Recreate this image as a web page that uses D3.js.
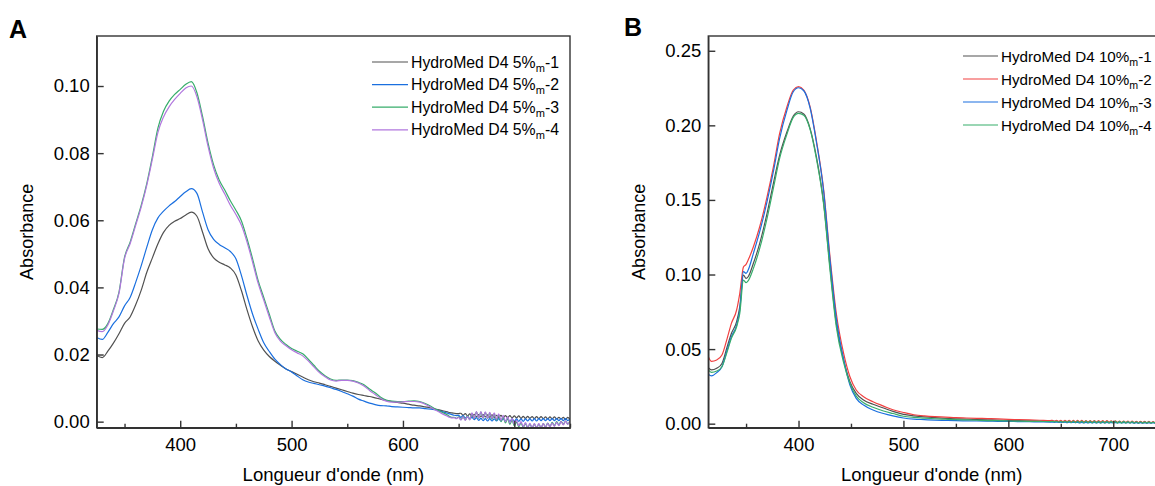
<!DOCTYPE html>
<html><head><meta charset="utf-8">
<script src="https://cdn.jsdelivr.net/npm/d3@7"></script>
<style>
body{margin:0;background:#fff}
svg{display:block}
text{font-family:"Liberation Sans",Arial,sans-serif;fill:#000}
</style>
</head><body>
<svg id="c" width="1155" height="486"></svg>
<script>
// ---------- Panel A data ----------
const wlA = d3.range(325, 641, 5);          // main grid (nm)
const wlATail = d3.range(642, 751, 2);      // noisy tail grid (nm)
const namesA = ["HydroMed D4 5%|m|-1","HydroMed D4 5%|m|-2","HydroMed D4 5%|m|-3","HydroMed D4 5%|m|-4"];
const colorsA = ["#515151","#1A6FDF","#37AD6B","#B177DE"];
const A1 = [0.0197,0.0191,0.0210,0.0234,0.0262,0.0293,0.0312,0.0348,0.0392,0.0445,0.0488,0.0530,0.0564,0.0585,0.0597,0.0605,0.0616,0.0624,0.0612,0.0565,0.0515,0.0488,0.0475,0.0467,0.0458,0.0437,0.0390,0.0333,0.0282,0.0240,0.0213,0.0194,0.0180,0.0168,0.0157,0.0149,0.0141,0.0133,0.0125,0.0119,0.0115,0.0110,0.0105,0.0100,0.0095,0.0090,0.0085,0.0081,0.0078,0.0075,0.0071,0.0067,0.0063,0.0060,0.0057,0.0055,0.0052,0.0049,0.0047,0.0044,0.0041,0.0037,0.0033,0.0029];
const A2 = [0.0251,0.0245,0.0266,0.0292,0.0312,0.0345,0.0370,0.0415,0.0465,0.0520,0.0572,0.0607,0.0627,0.0643,0.0656,0.0671,0.0685,0.0694,0.0680,0.0625,0.0572,0.0543,0.0528,0.0518,0.0507,0.0485,0.0435,0.0375,0.0320,0.0275,0.0235,0.0209,0.0186,0.0170,0.0157,0.0148,0.0136,0.0125,0.0118,0.0114,0.0110,0.0106,0.0101,0.0096,0.0090,0.0083,0.0076,0.0067,0.0061,0.0055,0.0051,0.0048,0.0047,0.0045,0.0044,0.0043,0.0042,0.0041,0.0041,0.0039,0.0037,0.0035,0.0030,0.0025];
const A3 = [0.0276,0.0275,0.0292,0.0334,0.0386,0.0490,0.0535,0.0590,0.0645,0.0710,0.0790,0.0875,0.0925,0.0955,0.0975,0.0990,0.1005,0.1013,0.0980,0.0910,0.0830,0.0765,0.0720,0.0690,0.0658,0.0630,0.0598,0.0545,0.0485,0.0420,0.0370,0.0320,0.0270,0.0245,0.0230,0.0218,0.0210,0.0202,0.0186,0.0168,0.0150,0.0137,0.0127,0.0123,0.0124,0.0124,0.0122,0.0117,0.0110,0.0097,0.0086,0.0073,0.0064,0.0061,0.0060,0.0060,0.0061,0.0062,0.0060,0.0054,0.0046,0.0036,0.0028,0.0020];
const A4 = [0.0272,0.0268,0.0288,0.0330,0.0382,0.0486,0.0530,0.0585,0.0640,0.0705,0.0782,0.0862,0.0908,0.0938,0.0960,0.0978,0.0994,0.1000,0.0968,0.0900,0.0820,0.0755,0.0710,0.0678,0.0645,0.0617,0.0585,0.0535,0.0475,0.0412,0.0362,0.0312,0.0265,0.0240,0.0226,0.0214,0.0205,0.0196,0.0181,0.0163,0.0146,0.0134,0.0124,0.0121,0.0123,0.0123,0.0121,0.0115,0.0106,0.0093,0.0081,0.0069,0.0061,0.0058,0.0058,0.0059,0.0060,0.0060,0.0058,0.0052,0.0043,0.0033,0.0024,0.0016];
const A1t = [0.0027,0.0026,0.0025,0.0024,0.0024,0.0025,0.0019,0.0024,0.0017,0.0023,0.0016,0.0022,0.0015,0.0021,0.0014,0.0021,0.0014,0.0020,0.0013,0.0020,0.0013,0.0019,0.0013,0.0019,0.0012,0.0018,0.0012,0.0018,0.0011,0.0017,0.0011,0.0017,0.0010,0.0016,0.0010,0.0016,0.0010,0.0015,0.0009,0.0015,0.0009,0.0015,0.0009,0.0014,0.0008,0.0014,0.0008,0.0014,0.0008,0.0013,0.0008,0.0013,0.0007,0.0013,0.0007];
const A2t = [0.0023,0.0021,0.0019,0.0018,0.0019,0.0013,0.0018,0.0011,0.0015,0.0009,0.0013,0.0006,0.0012,0.0004,0.0010,0.0003,0.0009,0.0002,0.0009,0.0002,0.0008,0.0002,0.0009,0.0002,0.0009,0.0002,0.0008,0.0001,0.0008,0.0001,0.0008,0.0001,0.0008,0.0001,0.0008,0.0002,0.0008,0.0002,0.0009,0.0002,0.0009,0.0003,0.0009,0.0003,0.0009,0.0003,0.0009,0.0003,0.0009,0.0003,0.0009,0.0003,0.0009,0.0003,0.0008];
const A3t = [0.0015,0.0013,0.0013,0.0010,0.0014,0.0006,0.0015,0.0005,0.0017,0.0006,0.0025,0.0009,0.0029,0.0010,0.0029,0.0010,0.0028,0.0009,0.0026,0.0007,0.0023,0.0004,0.0019,0.0000,0.0014,-0.0004,0.0009,-0.0008,0.0004,-0.0012,-0.0001,-0.0015,-0.0004,-0.0017,-0.0006,-0.0018,-0.0007,-0.0019,-0.0007,-0.0019,-0.0007,-0.0018,-0.0006,-0.0016,-0.0004,-0.0014,-0.0002,-0.0012,0.0000,-0.0010,0.0001,-0.0008,0.0002,-0.0007,0.0003];
const A4t = [0.0013,0.0011,0.0012,0.0009,0.0013,0.0005,0.0014,0.0004,0.0016,0.0005,0.0026,0.0010,0.0030,0.0011,0.0030,0.0011,0.0029,0.0010,0.0028,0.0009,0.0026,0.0007,0.0023,0.0004,0.0019,0.0000,0.0014,-0.0004,0.0009,-0.0008,0.0004,-0.0012,0.0000,-0.0015,-0.0003,-0.0017,-0.0005,-0.0018,-0.0006,-0.0018,-0.0006,-0.0018,-0.0006,-0.0017,-0.0005,-0.0016,-0.0004,-0.0014,-0.0002,-0.0012,0.0000,-0.0010,0.0002,-0.0008,0.0003];
const xTicksA = [400,500,600,700];
const xMinorA = [350,450,550,650,750];
const yTicksA = [0.00,0.02,0.04,0.06,0.08,0.10];

// ---------- Panel B data ----------
const wlB = [314,317,322,327,332,336,341,344,347.5,350,352,357,363,370,376,382,389,395,400,405,411,417,424,430,436,443,449,455,462,471,481,490,500];
const wlBMid = [510,520,530,540,550,560,570,580,590,600,610,620,630,640];
const wlBTail = d3.range(642, 751, 2);
const namesB = ["HydroMed D4 10%|m|-1","HydroMed D4 10%|m|-2","HydroMed D4 10%|m|-3","HydroMed D4 10%|m|-4"];
const colorsB = ["#515151","#F14040","#1A6FDF","#37AD6B"];
const B1 = [0.0375,0.0360,0.0371,0.0404,0.0516,0.0605,0.0684,0.0784,0.0996,0.0974,0.0985,0.1075,0.1209,0.1410,0.1610,0.1800,0.1957,0.2062,0.2091,0.2076,0.1980,0.1790,0.1477,0.1052,0.0672,0.0427,0.0282,0.0203,0.0159,0.0130,0.0105,0.0082,0.0062];
const B2 = [0.0449,0.0418,0.0427,0.0460,0.0572,0.0672,0.0762,0.0874,0.1050,0.1068,0.1097,0.1186,0.1320,0.1520,0.1720,0.1946,0.2125,0.2236,0.2259,0.2236,0.2125,0.1900,0.1566,0.1120,0.0740,0.0471,0.0315,0.0226,0.0181,0.0147,0.0118,0.0093,0.0075];
const B3 = [0.0331,0.0320,0.0342,0.0382,0.0494,0.0583,0.0661,0.0762,0.1019,0.1008,0.1030,0.1142,0.1287,0.1488,0.1689,0.1912,0.2102,0.2225,0.2252,0.2232,0.2118,0.1890,0.1555,0.1097,0.0706,0.0431,0.0259,0.0170,0.0125,0.0092,0.0068,0.0052,0.0038];
const B4 = [0.0360,0.0344,0.0353,0.0382,0.0483,0.0572,0.0650,0.0740,0.0963,0.0945,0.0958,0.1041,0.1175,0.1376,0.1577,0.1778,0.1941,0.2053,0.2080,0.2067,0.1973,0.1778,0.1466,0.1030,0.0650,0.0409,0.0270,0.0185,0.0141,0.0110,0.0085,0.0068,0.0050];
const B1m = [0.0052,0.0045,0.0040,0.0036,0.0033,0.0030,0.0028,0.0026,0.0024,0.0022,0.0020,0.0019,0.0018,0.0017];
const B2m = [0.0060,0.0052,0.0047,0.0044,0.0040,0.0038,0.0036,0.0034,0.0032,0.0029,0.0027,0.0025,0.0023,0.0021];
const B3m = [0.0030,0.0027,0.0024,0.0022,0.0020,0.0019,0.0018,0.0017,0.0016,0.0015,0.0014,0.0013,0.0012,0.0011];
const B4m = [0.0042,0.0037,0.0033,0.0030,0.0027,0.0025,0.0023,0.0021,0.0020,0.0018,0.0017,0.0016,0.0015,0.0014];
const B1t = [0.0017,0.0015,0.0017,0.0014,0.0016,0.0013,0.0016,0.0013,0.0016,0.0012,0.0015,0.0012,0.0015,0.0011,0.0015,0.0011,0.0014,0.0011,0.0014,0.0010,0.0014,0.0010,0.0013,0.0010,0.0013,0.0009,0.0013,0.0009,0.0012,0.0009,0.0012,0.0009,0.0012,0.0008,0.0011,0.0008,0.0011,0.0008,0.0011,0.0008,0.0010,0.0007,0.0010,0.0007,0.0010,0.0007,0.0010,0.0007,0.0009,0.0007,0.0009,0.0006,0.0009,0.0006,0.0009];
const B2t = [0.0022,0.0016,0.0023,0.0015,0.0023,0.0014,0.0023,0.0013,0.0023,0.0013,0.0022,0.0012,0.0022,0.0012,0.0022,0.0011,0.0021,0.0011,0.0021,0.0010,0.0021,0.0010,0.0020,0.0010,0.0020,0.0009,0.0020,0.0009,0.0019,0.0009,0.0019,0.0008,0.0018,0.0008,0.0018,0.0008,0.0017,0.0007,0.0017,0.0007,0.0016,0.0007,0.0016,0.0007,0.0015,0.0006,0.0015,0.0006,0.0014,0.0006,0.0014,0.0006,0.0013,0.0006,0.0012];
const B3t = [0.0011,0.0009,0.0011,0.0008,0.0010,0.0008,0.0010,0.0007,0.0010,0.0007,0.0009,0.0007,0.0009,0.0006,0.0009,0.0006,0.0009,0.0006,0.0008,0.0006,0.0008,0.0005,0.0008,0.0005,0.0008,0.0005,0.0008,0.0005,0.0007,0.0005,0.0007,0.0005,0.0007,0.0005,0.0007,0.0005,0.0007,0.0005,0.0007,0.0004,0.0007,0.0004,0.0007,0.0004,0.0006,0.0004,0.0006,0.0004,0.0006,0.0004,0.0006,0.0004,0.0006,0.0004,0.0006];
const B4t = [0.0015,0.0012,0.0016,0.0011,0.0016,0.0010,0.0016,0.0009,0.0017,0.0008,0.0017,0.0007,0.0017,0.0007,0.0017,0.0006,0.0017,0.0006,0.0017,0.0005,0.0017,0.0005,0.0016,0.0004,0.0016,0.0004,0.0016,0.0004,0.0016,0.0004,0.0015,0.0004,0.0015,0.0004,0.0015,0.0004,0.0014,0.0004,0.0014,0.0004,0.0013,0.0004,0.0013,0.0004,0.0012,0.0004,0.0012,0.0004,0.0011,0.0004,0.0011,0.0004,0.0010,0.0004,0.0010];
const xTicksB = [400,500,600,700];
const xMinorB = [350,450,550,650];
const yTicksB = [0.00,0.05,0.10,0.15,0.20,0.25];

const xTitle = "Longueur d'onde (nm)";
const yTitle = "Absorbance";

function zip(xs, ys){ const n = Math.min(xs.length, ys.length); return d3.range(n).map(i => [xs[i], ys[i]]); }

const seriesA = [
  zip(wlA, A1).concat(zip(wlATail, A1t)),
  zip(wlA, A2).concat(zip(wlATail, A2t)),
  zip(wlA, A3).concat(zip(wlATail, A3t)),
  zip(wlA, A4).concat(zip(wlATail, A4t))
];
const seriesB = [
  zip(wlB, B1).concat(zip(wlBMid, B1m), zip(wlBTail, B1t)),
  zip(wlB, B2).concat(zip(wlBMid, B2m), zip(wlBTail, B2t)),
  zip(wlB, B3).concat(zip(wlBMid, B3m), zip(wlBTail, B3t)),
  zip(wlB, B4).concat(zip(wlBMid, B4m), zip(wlBTail, B4t))
];

const svg = d3.select("#c");

function panel(cfg){
  const g = svg.append("g");
  const x = d3.scaleLinear().domain(cfg.xDom).range([cfg.left, cfg.right]);
  const y = d3.scaleLinear().domain(cfg.yDom).range([cfg.bottom, cfg.top]);
  const cid = "clip" + cfg.id;
  svg.append("clipPath").attr("id", cid).append("rect")
    .attr("x", cfg.left).attr("y", cfg.top)
    .attr("width", cfg.right - cfg.left).attr("height", cfg.bottom - cfg.top);

  const line = d3.line().x(d => x(d[0])).y(d => y(d[1])).curve(d3.curveMonotoneX);
  const lg = g.append("g").attr("clip-path", `url(#${cid})`);
  cfg.series.forEach((s, i) => {
    lg.append("path").attr("d", line(s)).attr("fill", "none")
      .attr("stroke", cfg.colors[i]).attr("stroke-width", 1.2)
      .attr("stroke-linejoin", "round");
  });

  // frame
  g.append("rect").attr("x", cfg.left).attr("y", cfg.top)
    .attr("width", cfg.right - cfg.left).attr("height", cfg.bottom - cfg.top)
    .attr("fill", "none").attr("stroke", "#333").attr("stroke-width", 1.4);

  // axes
  const xa = g.append("g").attr("transform", `translate(0,${cfg.bottom})`)
    .call(d3.axisBottom(x).tickValues(cfg.xTicks).tickFormat(d3.format("d"))
      .tickSizeInner(-7).tickSizeOuter(0).tickPadding(10));
  const xm = g.append("g").attr("transform", `translate(0,${cfg.bottom})`)
    .call(d3.axisBottom(x).tickValues(cfg.xMinor).tickFormat("").tickSizeInner(-4).tickSizeOuter(0));
  const ya = g.append("g").attr("transform", `translate(${cfg.left},0)`)
    .call(d3.axisLeft(y).tickValues(cfg.yTicks).tickFormat(d3.format(".2f"))
      .tickSizeInner(-7).tickSizeOuter(0).tickPadding(7));
  [xa, xm, ya].forEach(a => {
    a.select(".domain").attr("stroke", "#333").attr("stroke-width", 1.4);
    a.selectAll(".tick line").attr("stroke", "#333").attr("stroke-width", 1.4);
    a.selectAll(".tick text").attr("font-size", 18.5).attr("font-family", "Liberation Sans, Arial, sans-serif").attr("fill", "#000");
  });

  // titles
  g.append("text").attr("x", (cfg.left + cfg.titleRight) / 2).attr("y", cfg.xTitleY)
    .attr("text-anchor", "middle").attr("font-size", 18.5).text(xTitle);
  g.append("text").attr("transform", `translate(${cfg.yTitleX},${(cfg.top + cfg.bottom) / 2}) rotate(-90)`)
    .attr("text-anchor", "middle").attr("font-size", 18).text(yTitle);
  g.append("text").attr("x", cfg.labelX).attr("y", cfg.labelY)
    .attr("font-size", 25).attr("font-weight", "bold").text(cfg.label);

  // legend
  cfg.names.forEach((nm, i) => {
    const yy = cfg.legY + i * cfg.legDy;
    g.append("line").attr("x1", cfg.legX1).attr("x2", cfg.legX2).attr("y1", yy).attr("y2", yy)
      .attr("stroke", cfg.colors[i]).attr("stroke-width", 1.2);
    const parts = nm.split("|");
    const t = g.append("text").attr("x", cfg.legX2 + 3).attr("y", yy + 5.5).attr("font-size", cfg.legFont);
    t.append("tspan").text(parts[0]);
    t.append("tspan").attr("dy", 4).attr("font-size", cfg.legFont * 0.7).text(parts[1]);
    t.append("tspan").attr("dy", -4).text(parts[2]);
  });
}

panel({
  id: "A", label: "A", labelX: 9, labelY: 38,
  left: 96.7, right: 570, top: 36, bottom: 427.7,
  xDom: [325, 750], yDom: [-0.0018, 0.1149],
  xTicks: xTicksA, xMinor: xMinorA, yTicks: yTicksA,
  series: seriesA, colors: colorsA, names: namesA,
  titleRight: 570, xTitleY: 481, yTitleX: 33,
  legX1: 372, legX2: 408, legY: 62, legDy: 22.6, legFont: 15.8
});
panel({
  id: "B", label: "B", labelX: 624, labelY: 36,
  left: 708.3, right: 1165.7, top: 36, bottom: 427.7,
  xDom: [314, 750], yDom: [-0.0027, 0.2599],
  xTicks: xTicksB, xMinor: xMinorB, yTicks: yTicksB,
  series: seriesB, colors: colorsB, names: namesB,
  titleRight: 1155, xTitleY: 481, yTitleX: 645,
  legX1: 963, legX2: 998, legY: 56, legDy: 23, legFont: 15.2
});
</script>
</body></html>
